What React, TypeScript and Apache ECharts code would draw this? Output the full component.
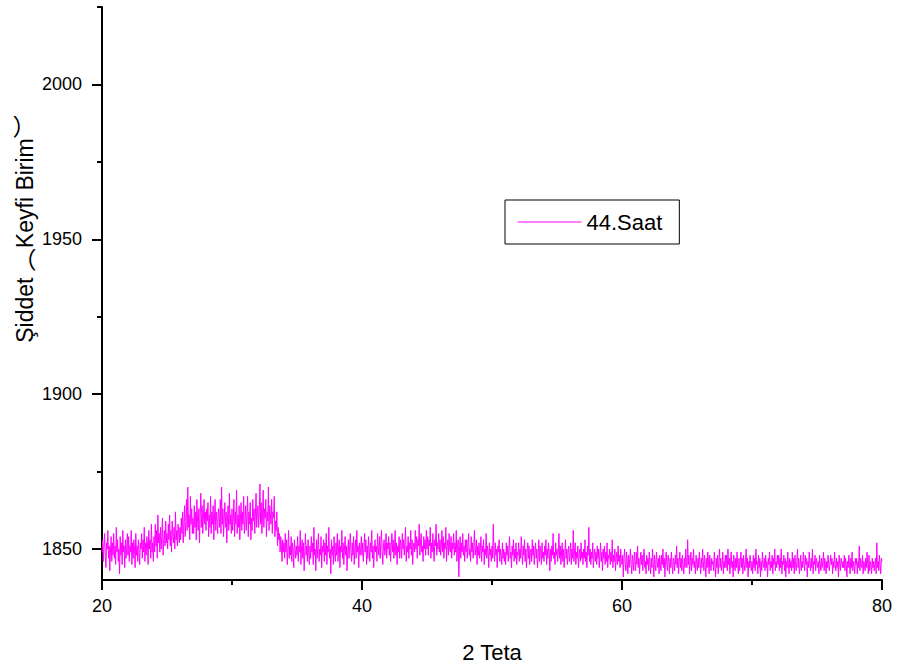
import React, { useEffect, useRef } from "react";
import * as echarts from "echarts";

// 2-theta sampling grid
const X_START = 20;
const X_STEP = 0.05;

// Intensity values, one row per degree (20.00 ... 80.00, step 0.05)
const INTENSITY = [
  1849,1853,1846,1851,1855,1848,1844,1852,1850,1856,1847,1851,1843,1849,1854,1846,1852,1848,1855,1847,
  1851,1845,1857,1849,1853,1846,1850,1842,1854,1848,1852,1845,1856,1849,1851,1844,1853,1847,1850,1855,
  1848,1854,1846,1851,1849,1856,1845,1852,1847,1853,1850,1844,1855,1848,1851,1846,1853,1849,1845,1852,
  1850,1855,1847,1853,1849,1857,1846,1852,1848,1854,1851,1845,1856,1850,1853,1847,1858,1849,1852,1846,
  1854,1849,1858,1851,1856,1847,1861,1852,1855,1849,1857,1850,1854,1860,1848,1853,1856,1851,1859,1852,
  1855,1850,1858,1853,1861,1851,1856,1849,1859,1854,1852,1857,1850,1862,1853,1856,1851,1858,1855,1852,
  1857,1853,1860,1855,1862,1852,1858,1864,1854,1859,1866,1856,1870,1857,1861,1853,1867,1858,1863,1855,
  1860,1855,1864,1857,1862,1853,1866,1859,1856,1863,1852,1861,1868,1857,1864,1855,1860,1866,1858,1862,
  1856,1863,1859,1865,1854,1861,1857,1867,1855,1862,1858,1864,1853,1860,1866,1856,1862,1859,1855,1863,
  1861,1857,1866,1855,1870,1858,1863,1854,1860,1865,1857,1862,1852,1859,1864,1856,1868,1858,1861,1855,
  1863,1856,1860,1866,1854,1862,1858,1869,1855,1861,1857,1864,1853,1860,1865,1856,1862,1858,1867,1855,
  1859,1864,1856,1861,1867,1854,1862,1858,1865,1853,1860,1856,1866,1859,1863,1855,1861,1868,1857,1862,
  1864,1857,1862,1871,1858,1865,1855,1861,1869,1857,1863,1860,1866,1854,1862,1859,1870,1856,1864,1861,
  1858,1866,1855,1862,1860,1867,1854,1859,1856,1862,1851,1857,1853,1855,1849,1854,1851,1846,1853,1849,
  1852,1847,1855,1849,1853,1845,1850,1856,1847,1851,1848,1854,1846,1852,1849,1844,1853,1850,1847,1851,
  1848,1854,1846,1851,1849,1856,1845,1850,1853,1847,1852,1843,1849,1855,1848,1851,1846,1853,1849,1845,
  1851,1847,1854,1849,1852,1845,1857,1848,1850,1843,1853,1847,1851,1855,1846,1850,1848,1854,1844,1851,
  1849,1853,1846,1852,1848,1855,1845,1851,1849,1857,1847,1850,1842,1853,1848,1851,1845,1854,1849,1846,
  1852,1848,1855,1846,1850,1853,1844,1851,1849,1856,1847,1852,1845,1850,1854,1848,1851,1843,1849,1853,
  1847,1851,1855,1849,1846,1852,1848,1854,1845,1850,1853,1847,1856,1849,1851,1844,1852,1848,1850,1854,
  1848,1852,1846,1850,1855,1849,1853,1845,1851,1847,1854,1850,1846,1852,1849,1856,1847,1851,1844,1850,
  1853,1849,1851,1846,1855,1850,1848,1854,1847,1852,1856,1849,1845,1851,1853,1848,1850,1855,1847,1852,
  1850,1854,1848,1852,1846,1851,1855,1849,1853,1847,1850,1856,1848,1852,1845,1851,1849,1854,1847,1853,
  1851,1847,1855,1850,1853,1848,1852,1857,1846,1851,1849,1854,1847,1852,1850,1856,1848,1853,1845,1851,
  1852,1849,1856,1850,1854,1847,1853,1851,1858,1848,1852,1855,1849,1851,1846,1854,1850,1853,1848,1856,
  1850,1854,1848,1853,1851,1857,1847,1852,1849,1855,1850,1846,1853,1851,1858,1848,1852,1850,1855,1849,
  1853,1848,1851,1856,1849,1854,1847,1852,1850,1857,1846,1851,1853,1848,1855,1850,1849,1854,1847,1852,
  1850,1855,1848,1852,1849,1856,1846,1851,1853,1841,1850,1854,1847,1852,1849,1855,1848,1851,1846,1853,
  1849,1853,1847,1851,1855,1848,1850,1846,1854,1849,1852,1847,1851,1856,1848,1850,1853,1845,1851,1848,
  1852,1847,1850,1854,1846,1851,1849,1853,1845,1850,1848,1855,1847,1851,1849,1844,1852,1848,1850,1846,
  1851,1847,1858,1849,1846,1852,1848,1850,1844,1851,1849,1853,1846,1850,1848,1845,1852,1847,1850,1846,
  1849,1845,1852,1848,1851,1846,1850,1854,1847,1849,1844,1851,1848,1853,1846,1850,1847,1852,1845,1849,
  1848,1852,1846,1850,1847,1854,1849,1845,1851,1848,1853,1846,1850,1844,1849,1852,1847,1851,1845,1849,
  1850,1846,1853,1848,1851,1845,1849,1852,1847,1850,1844,1848,1853,1846,1851,1849,1845,1852,1847,1849,
  1846,1851,1848,1853,1845,1850,1847,1852,1849,1843,1850,1846,1851,1848,1855,1847,1849,1845,1852,1848,
  1850,1846,1849,1855,1847,1851,1845,1849,1852,1846,1850,1844,1848,1853,1847,1850,1845,1849,1851,1846,
  1848,1852,1845,1850,1847,1856,1846,1849,1852,1845,1849,1847,1851,1844,1848,1850,1846,1852,1847,1849,
  1845,1850,1847,1853,1846,1849,1844,1851,1848,1857,1846,1850,1845,1849,1847,1852,1844,1848,1850,1846,
  1849,1845,1851,1847,1850,1844,1848,1852,1846,1849,1843,1850,1847,1851,1845,1849,1846,1852,1844,1848,
  1847,1850,1845,1849,1846,1853,1844,1848,1846,1850,1843,1847,1849,1845,1851,1846,1848,1844,1850,1846,
  1845,1848,1841,1847,1850,1845,1843,1849,1846,1842,1848,1844,1847,1850,1845,1842,1848,1846,1843,1849,
  1846,1843,1849,1845,1851,1844,1847,1842,1846,1849,1845,1848,1843,1847,1850,1844,1846,1842,1848,1845,
  1847,1843,1849,1845,1842,1847,1844,1850,1846,1841,1848,1845,1843,1849,1846,1844,1847,1842,1848,1845,
  1843,1848,1845,1850,1844,1847,1841,1846,1849,1845,1843,1848,1846,1842,1847,1844,1849,1845,1842,1847,
  1846,1843,1848,1845,1851,1844,1847,1842,1846,1849,1844,1847,1843,1848,1845,1842,1847,1844,1850,1846,
  1844,1853,1845,1848,1842,1846,1849,1843,1847,1845,1850,1844,1846,1842,1848,1845,1843,1847,1844,1849,
  1845,1842,1847,1844,1850,1846,1843,1848,1845,1841,1847,1844,1849,1846,1842,1848,1845,1843,1847,1845,
  1846,1843,1849,1845,1841,1847,1844,1848,1842,1846,1850,1844,1847,1843,1845,1849,1842,1846,1844,1848,
  1844,1848,1843,1850,1845,1847,1842,1846,1849,1844,1846,1841,1848,1845,1843,1847,1844,1849,1845,1842,
  1847,1843,1846,1849,1844,1847,1842,1848,1845,1843,1846,1850,1844,1847,1841,1846,1844,1848,1845,1843,
  1846,1842,1848,1844,1847,1843,1850,1845,1846,1842,1848,1844,1847,1841,1846,1843,1849,1845,1844,1847,
  1843,1848,1844,1846,1841,1847,1845,1849,1843,1846,1844,1848,1842,1847,1845,1850,1843,1846,1844,1848,
  1845,1848,1843,1847,1844,1850,1842,1846,1845,1848,1843,1847,1841,1846,1844,1849,1845,1842,1847,1844,
  1846,1843,1849,1844,1847,1842,1848,1845,1843,1846,1850,1844,1847,1842,1845,1848,1843,1846,1844,1849,
  1845,1843,1848,1845,1847,1841,1846,1844,1849,1845,1843,1847,1844,1850,1842,1846,1845,1848,1843,1847,
  1847,1844,1846,1842,1848,1845,1843,1847,1844,1846,1849,1843,1847,1845,1842,1846,1844,1848,1845,1843,
  1843,1848,1845,1847,1842,1846,1844,1849,1845,1843,1847,1844,1846,1841,1848,1845,1843,1847,1846,1844,
  1846,1844,1848,1843,1847,1845,1841,1846,1844,1848,1845,1842,1847,1844,1849,1843,1846,1845,1842,1847,
  1845,1847,1842,1846,1844,1851,1843,1847,1845,1844,1848,1842,1846,1845,1843,1847,1844,1849,1845,1842,
  1848,1843,1846,1845,1842,1847,1844,1846,1843,1845,1847,1842,1852,1844,1846,1843,1848,1845,1842,1847,
  1846,
];

const X_MIN = 20;
const X_MAX = 80;
const X_INTERVAL = 20;
const Y_MIN = 1840;
const Y_MAX = 2025;
const Y_TICKS = [1850, 1900, 1950, 2000];
const Y_MINOR_TICKS = [1875, 1925, 1975, 2025];

const SERIES_NAME = "44.Saat";
const X_TITLE = "2 Teta";
const Y_TITLE = "Şiddet ︵Keyfi Birim︶";

const FONT = "'Liberation Sans', Arial, 'Noto Sans CJK SC', sans-serif";

export default function App() {
  const ref = useRef<HTMLDivElement>(null);

  useEffect(() => {
    if (!ref.current) return;
    const chart = echarts.init(ref.current, null, { renderer: "svg" });
    const data = INTENSITY.map((v, i) => [
      Number((X_START + i * X_STEP).toFixed(2)),
      v,
    ]);
    chart.setOption({
      animation: false,
      backgroundColor: "#ffffff",
      textStyle: { fontFamily: FONT },
      grid: { left: 102, right: 17, top: 7, bottom: 92, containLabel: false },
      legend: {
        data: [SERIES_NAME],
        left: 505,
        top: 200,
        orient: "horizontal",
        padding: [11, 17, 11, 12],
        borderColor: "#000",
        borderWidth: 1,
        itemWidth: 64,
        itemHeight: 14,
        itemGap: 0,
        itemStyle: { opacity: 0 },
        lineStyle: { color: "#ff00ff", width: 1 },
        textStyle: { fontFamily: FONT, fontSize: 22, color: "#000" },
        selectedMode: false,
      },
      xAxis: {
        type: "value",
        min: X_MIN,
        max: X_MAX,
        interval: X_INTERVAL,
        name: X_TITLE,
        nameLocation: "middle",
        nameGap: 61,
        nameTextStyle: { fontFamily: FONT, fontSize: 22, color: "#000" },
        axisLine: { show: true, onZero: false, lineStyle: { color: "#000", width: 2 } },
        axisTick: { show: true, length: 10, lineStyle: { color: "#000", width: 2 } },
        minorTick: { show: true, splitNumber: 2, length: 5, lineStyle: { color: "#000", width: 2 } },
        axisLabel: { fontFamily: FONT, fontSize: 18, color: "#000", margin: 17 },
        splitLine: { show: false },
        minorSplitLine: { show: false },
      },
      yAxis: [
        {
          type: "value",
          min: Y_MIN,
          max: Y_MAX,
          position: "left",
          axisLine: { show: true, onZero: false, lineStyle: { color: "#000", width: 2 } },
          axisTick: {
            show: true,
            length: 10,
            customValues: Y_TICKS,
            lineStyle: { color: "#000", width: 2 },
          },
          axisLabel: {
            fontFamily: FONT,
            fontSize: 18,
            color: "#000",
            margin: 20,
            customValues: Y_TICKS,
            formatter: (v: number) => String(v),
          },
          splitLine: { show: false },
        },
        {
          type: "value",
          min: Y_MIN,
          max: Y_MAX,
          position: "left",
          offset: 0,
          axisLine: { show: false },
          axisTick: {
            show: true,
            length: 5,
            customValues: Y_MINOR_TICKS,
            lineStyle: { color: "#000", width: 2 },
          },
          axisLabel: { show: false },
          splitLine: { show: false },
        },
      ],
      graphic: [
        {
          type: "text",
          x: 25,
          y: 229,
          rotation: Math.PI / 2,
          style: {
            text: Y_TITLE,
            fontFamily: FONT,
            fontSize: 23,
            fill: "#000",
            align: "center",
            verticalAlign: "middle",
          },
        },
      ],
      series: [
        {
          name: SERIES_NAME,
          type: "line",
          xAxisIndex: 0,
          yAxisIndex: 0,
          data,
          symbol: "none",
          showSymbol: false,
          lineStyle: { color: "#ff00ff", width: 1 },
          itemStyle: { color: "#ff00ff" },
          emphasis: { disabled: true },
        },
      ],
    });
    return () => chart.dispose();
  }, []);

  return (
    <div
      ref={ref}
      style={{ position: "absolute", left: 0, top: 0, width: 899, height: 672, background: "#fff" }}
    />
  );
}
